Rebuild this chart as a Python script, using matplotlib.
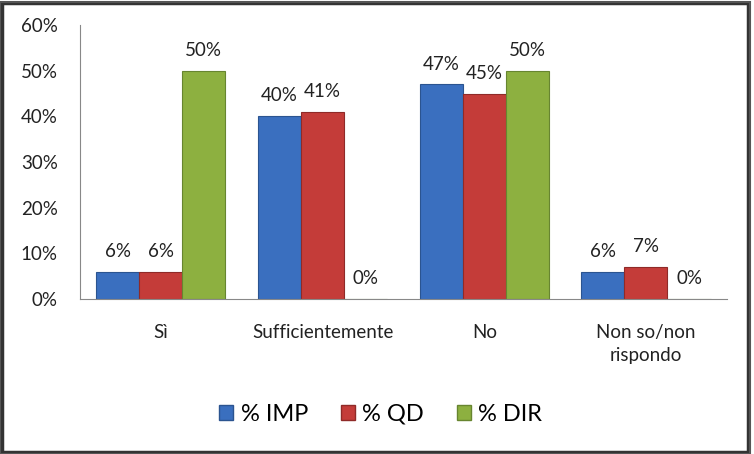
import matplotlib.pyplot as plt
import matplotlib.patches as mpatches
import numpy as np

categories = ['Sì', 'Sufficientemente', 'No', 'Non so/non\nrispondo']
series_names = ['% IMP', '% QD', '% DIR']
imp = [6, 40, 47, 6]
qd = [6, 41, 45, 7]
dir_ = [50, 0, 50, 0]
yticks = [0, 10, 20, 30, 40, 50, 60]

plt.rcParams['font.family'] = ['Lato', 'DejaVu Sans']

colors = ['#3a6fbf', '#c43c39', '#8db040']
edges = ['#2b5490', '#8f2a28', '#678530']

fig = plt.figure(figsize=(7.54, 4.54), dpi=100)
ax = fig.add_axes([0.106, 0.341, 0.858, 0.604])

x = np.arange(len(categories))
w = 0.266
for i, (vals, name) in enumerate(zip([imp, qd, dir_], series_names)):
    pos = x + (i - 1) * w
    ax.bar(pos, vals, width=w, color=colors[i], edgecolor=edges[i], linewidth=0.8, label=name)
    for p, v in zip(pos, vals):
        ax.text(p, v + 2.6, f'{v}%', ha='center', va='bottom', fontsize=13.5, color='#222222')

ax.set_xlim(-0.5, len(categories) - 0.5)
ax.set_ylim(0, 60)
ax.set_yticks(yticks)
ax.set_yticklabels([f'{t}%' for t in yticks], fontsize=13.5, color='#222222')
ax.set_xticks(x)
ax.set_xticklabels(categories, fontsize=13.5, linespacing=1.4, va='top', color='#222222')
ax.tick_params(axis='x', length=0, pad=18)
ax.tick_params(axis='y', length=0, pad=16)
for s in ['top', 'right']:
    ax.spines[s].set_visible(False)
for s in ['left', 'bottom']:
    ax.spines[s].set_color('#888888')
    ax.spines[s].set_linewidth(0.8)

handles = [mpatches.Patch(facecolor=c, edgecolor=e) for c, e in zip(colors, edges)]
fig.legend(handles, series_names, loc='center', bbox_to_anchor=(0.505, 0.088), ncol=3,
           frameon=False, fontsize=17, handlelength=0.6, handleheight=0.6,
           handletextpad=0.3, columnspacing=1.4)

fig.patches.append(mpatches.Rectangle((0.002, 0.004), 0.99, 0.99, transform=fig.transFigure,
                                      fill=False, edgecolor='#333333', linewidth=2.5))
fig.patches.append(mpatches.Rectangle((0.0, 0.0), 0.995, 0.995, transform=fig.transFigure,
                                      fill=False, edgecolor='#555555', linewidth=1.5))

fig.savefig('out.png', dpi=100)
